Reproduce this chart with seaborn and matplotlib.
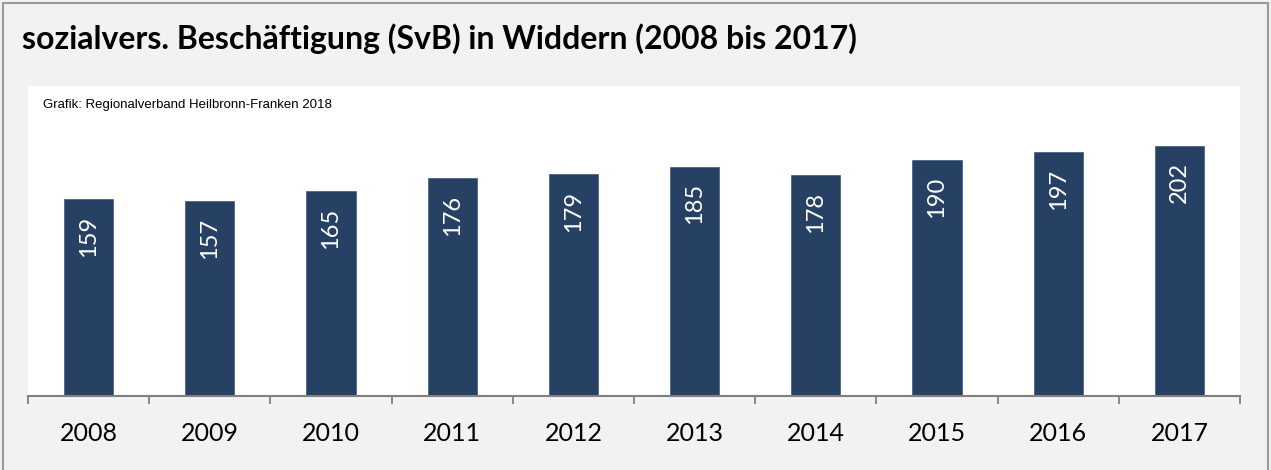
import pandas as pd
import seaborn as sns
from matplotlib import pyplot as plt
from matplotlib.patches import Rectangle

# Daten: SvB in Widdern 2008-2017
jahre = ['2008', '2009', '2010', '2011', '2012', '2013', '2014', '2015', '2016', '2017']
beschaeftigte = [159, 157, 165, 176, 179, 185, 178, 190, 197, 202]

titel = 'sozialvers. Beschäftigung (SvB) in Widdern (2008 bis 2017)'
quelle = 'Grafik: Regionalverband Heilbronn-Franken 2018'

df = pd.DataFrame({'jahr': jahre, 'svb': beschaeftigte})

sns.set_style('white')
plt.rcParams['font.family'] = ['Lato', 'DejaVu Sans']

farbe = '#264163'
grau = '#808080'

fig = plt.figure(figsize=(12.71, 4.70), dpi=100, facecolor='#f2f2f2')
fig.patches.append(Rectangle((0.0025, -0.01), 0.995, 1.0035, transform=fig.transFigure,
                             fill=False, edgecolor='#9a9a9a', linewidth=1.5))

ax = fig.add_axes([28 / 1271, 1 - 396 / 470, (1240 - 28) / 1271, (396 - 86) / 470])
ax.set_facecolor('white')

sns.barplot(data=df, x='jahr', y='svb', color=farbe, width=0.405, saturation=1,
            edgecolor='#3d5a80', linewidth=0.5, ax=ax)

# Werte in die Balken schreiben
for i, v in enumerate(beschaeftigte):
    ax.annotate(str(v), (i, v), xytext=(0, -12), textcoords='offset points',
                rotation=90, ha='center', va='top', color='white', fontsize=17)

ax.set_ylim(0, 250)
ax.set_xlim(-0.5, len(jahre) - 0.5)
ax.set_xlabel('')
ax.set_ylabel('')
ax.set_yticks([])

# Teilstriche an den Kategoriegrenzen
ax.set_xticks(range(len(jahre)))
ax.set_xticklabels(jahre, fontsize=18, color='black')
ax.tick_params(axis='x', which='major', length=0, pad=19)
ax.set_xticks([i - 0.5 for i in range(len(jahre) + 1)], minor=True)
ax.tick_params(axis='x', which='minor', bottom=True, length=6, width=1.3,
               color=grau, direction='out')

for s in ['top', 'left', 'right']:
    ax.spines[s].set_visible(False)
ax.spines['bottom'].set_color(grau)
ax.spines['bottom'].set_linewidth(1.5)

fig.text(22 / 1271, 1 - 39 / 470, titel, fontsize=23, fontweight='bold',
         va='center', ha='left', color='black')
fig.text(43 / 1271, 1 - 105 / 470, quelle, fontsize=9.5, va='center', ha='left',
         color='black', family=['Liberation Sans', 'DejaVu Sans'])

fig.savefig('out.png', dpi=100, facecolor=fig.get_facecolor())
